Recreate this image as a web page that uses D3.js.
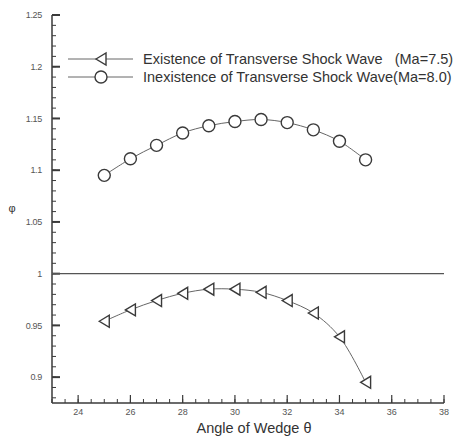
<!DOCTYPE html>
<html>
<head>
<meta charset="utf-8">
<script src="https://cdn.jsdelivr.net/npm/d3@7"></script>
<style>
  body { margin: 0; background: #fff; }
  svg { display: block; font-family: "Liberation Sans", Arial, sans-serif; }
  text { white-space: pre; }
</style>
</head>
<body>
<svg width="455" height="438"></svg>
<script>
// wedge angle, deg
const angles = [25, 26, 27, 28, 29, 30, 31, 32, 33, 34, 35];
// Ma=7.5, transverse shock wave exists
const phiExist = [0.954, 0.965, 0.974, 0.981, 0.985, 0.985, 0.982, 0.974, 0.962, 0.939, 0.895];
// Ma=8.0, no transverse shock wave
const phiNone = [1.095, 1.111, 1.124, 1.136, 1.143, 1.147, 1.149, 1.146, 1.139, 1.128, 1.110];
const yTicks = [0.9, 0.95, 1, 1.05, 1.1, 1.15, 1.2, 1.25];
const xTicks = [24, 26, 28, 30, 32, 34, 36, 38];
const legendLabels = ["Existence of Transverse Shock Wave   (Ma=7.5)", "Inexistence of Transverse Shock Wave(Ma=8.0)"];

let svg = d3.select("svg");
const ink = "#3a3a3a";

let x = d3.scaleLinear().domain([23, 38]).range([52, 444]);
let y = d3.scaleLinear().domain([0.875, 1.25]).range([403, 15]);

// y axis, ticks pointing inward
let yAxis = svg.append("g");
yAxis.append("line")
    .attr("x1", x(23)).attr("x2", x(23))
    .attr("y1", y(1.25)).attr("y2", y(0.875))
    .attr("stroke", ink).attr("stroke-width", 1.5);
yAxis.selectAll(".ymin")
    .data(d3.range(88, 126).map(d => d / 100))
    .enter()
    .append("line")
    .attr("x1", x(23)).attr("x2", x(23) + 4)
    .attr("y1", d => y(d)).attr("y2", d => y(d))
    .attr("stroke", ink);
yAxis.selectAll(".ymaj")
    .data(yTicks)
    .enter()
    .append("line")
    .attr("x1", x(23)).attr("x2", x(23) + 8)
    .attr("y1", d => y(d)).attr("y2", d => y(d))
    .attr("stroke", ink).attr("stroke-width", 2);
yAxis.selectAll("text")
    .data(yTicks)
    .enter()
    .append("text")
    .attr("x", 42)
    .attr("y", d => y(d))
    .attr("dy", "0.35em")
    .attr("text-anchor", "end")
    .attr("font-size", 9)
    .attr("letter-spacing", -0.3)
    .attr("fill", "#555")
    .text(d => d3.format("~g")(d));

// x axis
let xAxis = svg.append("g");
xAxis.append("line")
    .attr("x1", x(23)).attr("x2", x(38))
    .attr("y1", y(0.875)).attr("y2", y(0.875))
    .attr("stroke", ink).attr("stroke-width", 1.5);
xAxis.selectAll(".xmin")
    .data(d3.range(23, 38.01, 0.5))
    .enter()
    .append("line")
    .attr("x1", d => x(d)).attr("x2", d => x(d))
    .attr("y1", y(0.875)).attr("y2", y(0.875) - 4)
    .attr("stroke", ink);
xAxis.selectAll(".xmaj")
    .data(xTicks)
    .enter()
    .append("line")
    .attr("x1", d => x(d)).attr("x2", d => x(d))
    .attr("y1", y(0.875)).attr("y2", y(0.875) - 8)
    .attr("stroke", ink).attr("stroke-width", 1.2);
xAxis.selectAll("text")
    .data(xTicks)
    .enter()
    .append("text")
    .attr("x", d => x(d))
    .attr("y", 415)
    .attr("text-anchor", "middle")
    .attr("font-size", 9)
    .attr("fill", "#555")
    .text(d => d);

svg.append("text")
    .attr("x", 254).attr("y", 433)
    .attr("text-anchor", "middle")
    .attr("font-size", 14.5)
    .attr("fill", "#333")
    .text("Angle of Wedge θ");
svg.append("text")
    .attr("x", 12).attr("y", 212)
    .attr("text-anchor", "middle")
    .attr("font-size", 11)
    .attr("fill", "#333")
    .text("φ");

// reference line phi = 1
svg.append("line")
    .attr("x1", x(23)).attr("x2", x(38))
    .attr("y1", y(1)).attr("y2", y(1))
    .attr("stroke", "#555").attr("stroke-width", 1.3);

let line = d3.line()
    .x(d => x(d[0]))
    .y(d => y(d[1]))
    .curve(d3.curveCatmullRom);

const tri = "M-5,0 L5,-6 L5,6 Z";

function drawSeries(values, marker) {
    let pts = angles.map((a, i) => [a, values[i]]);
    svg.append("path")
        .attr("d", line(pts))
        .attr("fill", "none")
        .attr("stroke", "#666")
        .attr("stroke-width", 1);
    let g = svg.append("g");
    pts.forEach(p => marker(g, x(p[0]), y(p[1])));
}

function triangle(g, cx, cy) {
    g.append("path")
        .attr("transform", `translate(${cx},${cy})`)
        .attr("d", tri)
        .attr("fill", "#fff")
        .attr("stroke", ink)
        .attr("stroke-width", 1.4);
}
function circle(g, cx, cy) {
    g.append("circle")
        .attr("cx", cx).attr("cy", cy)
        .attr("r", 6)
        .attr("fill", "#fff")
        .attr("stroke", ink)
        .attr("stroke-width", 1.4);
}

drawSeries(phiExist, triangle);
drawSeries(phiNone, circle);

// legend
let legend = svg.append("g");
[[triangle, 59], [circle, 77]].forEach((m, i) => {
    legend.append("line")
        .attr("x1", 68).attr("x2", 133)
        .attr("y1", m[1]).attr("y2", m[1])
        .attr("stroke", "#666").attr("stroke-width", 1);
    m[0](legend, 101, m[1]);
    legend.append("text")
        .attr("x", 143).attr("y", m[1])
        .attr("dy", "0.35em")
        .attr("font-size", 14.5)
        .attr("fill", "#333")
        .text(legendLabels[i]);
});
</script>
</body>
</html>
